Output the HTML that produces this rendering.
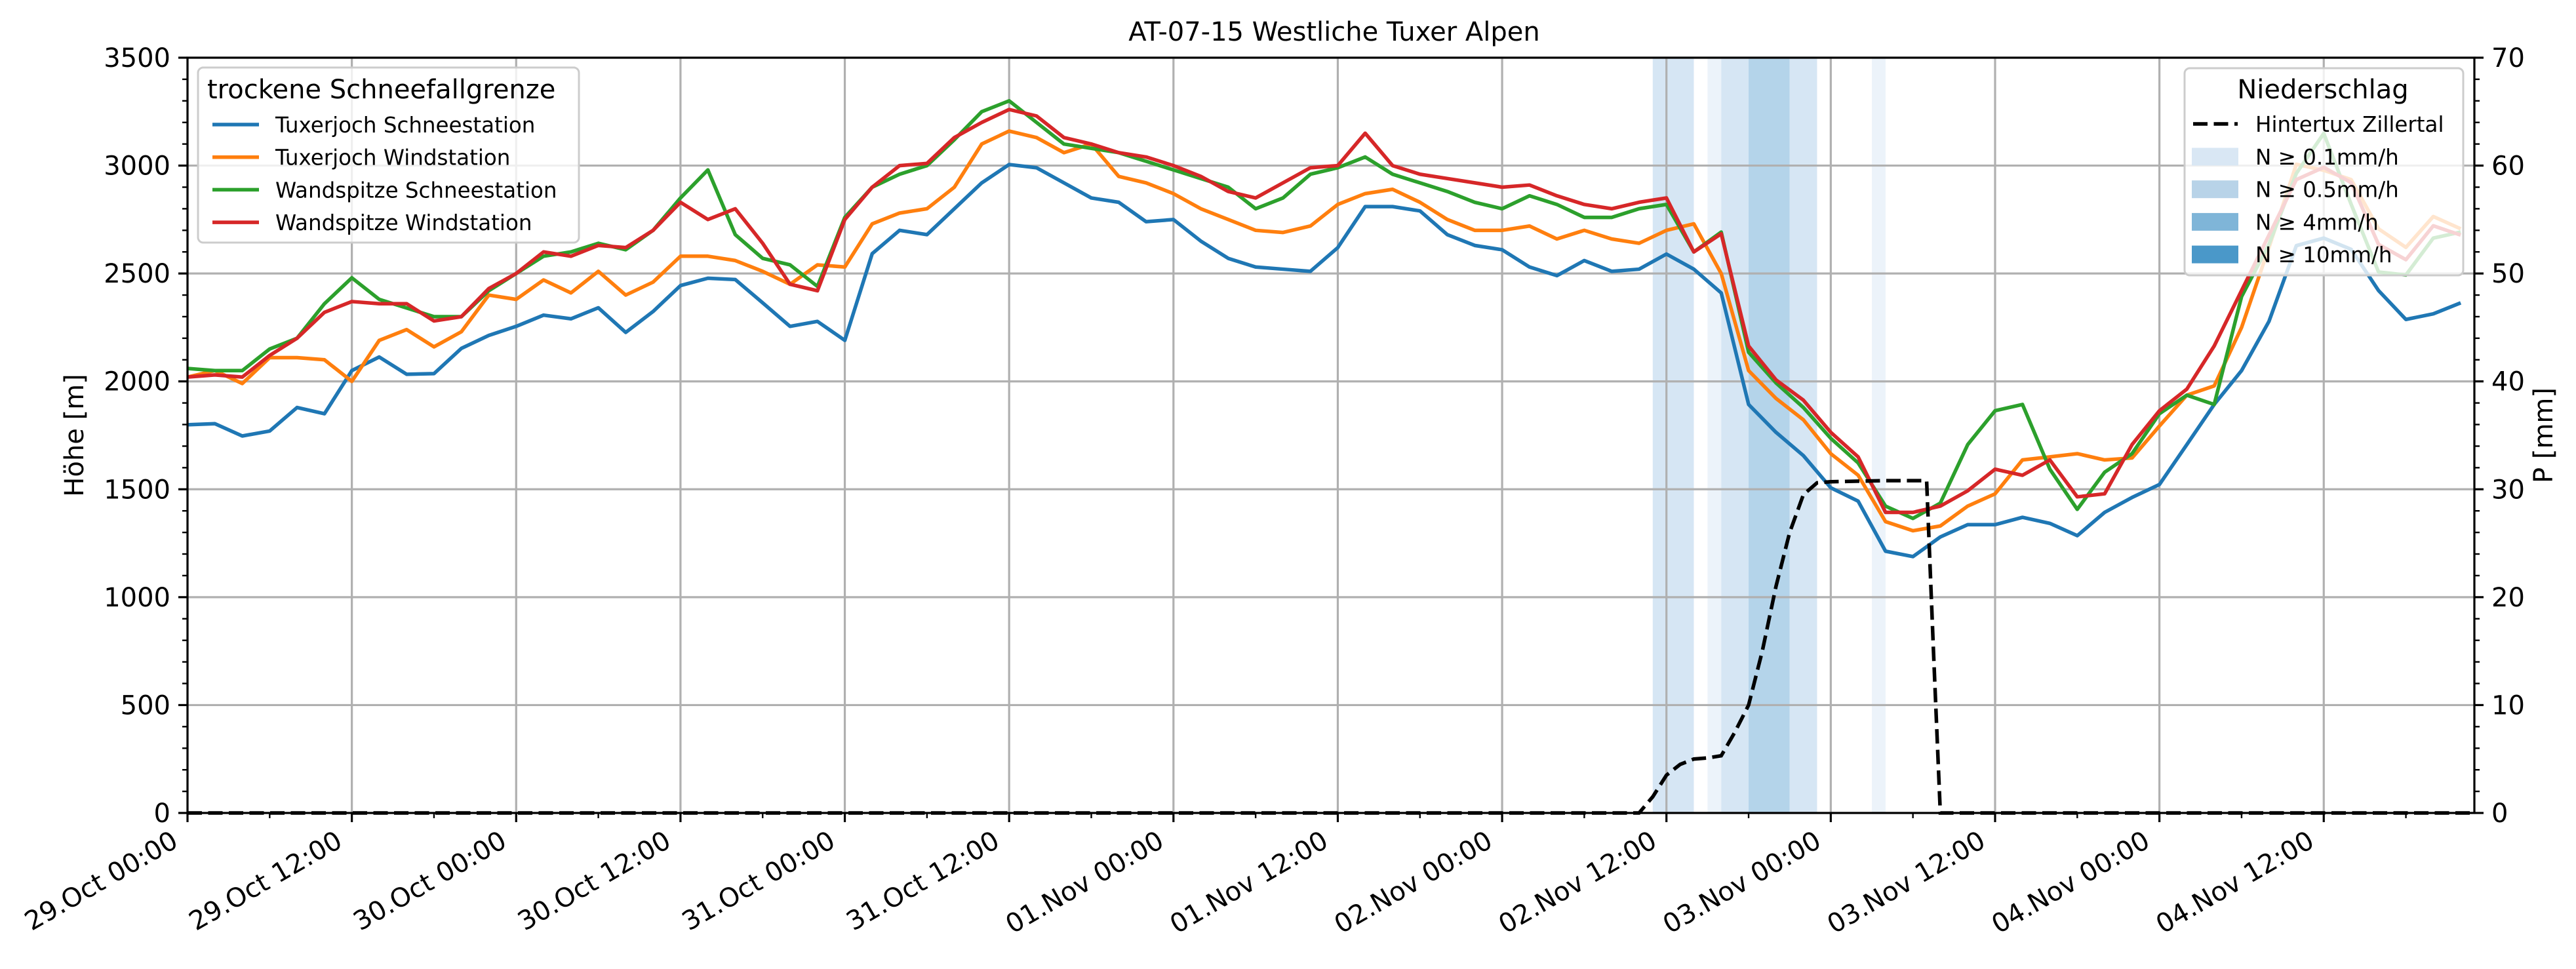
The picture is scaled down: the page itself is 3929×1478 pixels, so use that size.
<!DOCTYPE html>
<html><head><meta charset="utf-8"><style>
html,body{margin:0;padding:0;background:#fff;}
svg{display:block;font-family:"DejaVu Sans","Liberation Sans",sans-serif;}
</style></head><body>
<svg id="chart" width="3929" height="1478" viewBox="0 0 3929 1478" xmlns="http://www.w3.org/2000/svg">
<g id="bands"></g>
<g id="grid"></g>
<g id="series"></g>
<g id="axes"></g>
<g id="legends"></g>
</svg>
<script>
// ---- data (2-hourly, hour 0 = 29.Oct 00:00) ----
const hours2 = [0,2,4,6,8,10,12,14,16,18,20,22,24,26,28,30,32,34,36,38,40,42,44,46,48,50,52,54,56,58,60,62,64,66,68,70,72,74,76,78,80,82,84,86,88,90,92,94,96,98,100,102,104,106,108,110,112,114,116,118,120,122,124,126,128,130,132,134,136,138,140,142,144,146,148,150,152,154,156,158,160,162,164,166];
const tuxSchnee = [1799,1804,1747,1770,1879,1850,2050,2113,2033,2036,2153,2213,2255,2307,2290,2341,2227,2324,2444,2478,2472,2364,2255,2278,2190,2592,
 2700,2680,2800,2920,3005,2990,2920,2850,2830,2740,2750,2650,2570,2530,2520,2510,2620,2810,2810,2790,2680,2630,2610,2530,2490,2560,2510,2520,2590,2520,
 2410,1893,1764,1656,1507,1445,1213,1188,1279,1336,1336,1370,1342,1285,1393,1462,1522,1707,1893,2050,2278,2629,2664,2612,2421,2287,2313,2364];
const tuxWind = [2020,2050,1990,2110,2110,2100,2000,2190,2240,2160,2230,2400,2380,2470,2410,2510,2400,2460,2580,2580,2560,2510,2450,2540,2530,2730,2780,2800,2900,3100,3160,3130,3060,3100,2950,2920,2870,2800,2750,2700,2690,2720,2820,2870,2890,2830,2750,2700,2700,2720,2660,2700,2660,2640,2700,2730,
 2500,2050,1921,1822,1665,1565,1350,1308,1330,1422,1479,1636,1650,1665,1636,1645,1793,1936,1979,2250,2621,3006,2978,2935,2707,2621,2764,2707];
const wandSchnee = [2060,2050,2050,2150,2200,2360,2480,2380,2340,2300,2300,2420,2500,2580,2600,2640,2610,2700,2850,2980,2680,2570,2540,2440,2760,2900,2960,3000,3120,3250,3300,3200,3100,3080,3060,3020,2980,2940,2900,2800,2850,2960,2990,3040,2960,2920,2880,2830,2800,2860,2820,2760,2760,2800,2820,2600,
 2692,2135,1993,1879,1736,1622,1422,1365,1436,1707,1864,1893,1593,1407,1579,1665,1850,1936,1893,2393,2635,2964,3149,2821,2507,2493,2664,2692];
const wandWind = [2020,2030,2020,2120,2200,2320,2370,2360,2360,2280,2300,2430,2500,2600,2580,2630,2620,2700,2830,2750,2800,2640,2450,2420,2750,2900,3000,3010,3130,3200,3260,3230,3130,3100,3060,3040,3000,2950,2880,2850,2920,2990,3000,3150,3000,2960,2940,2920,2900,2910,2860,2820,2800,2830,2850,2600,
 2684,2164,2007,1913,1764,1650,1393,1393,1422,1493,1593,1565,1636,1465,1479,1707,1864,1964,2164,2421,2678,2935,2992,2921,2635,2564,2721,2678];
const precipHours = [0,106,107,108,109,110,111,112,113,114,115,116,117,118,119,120,124,127,127.5,128,167];
const precipValues = [0,0,1.5,3.5,4.5,5,5.1,5.3,7.5,10,15,21,26,29.5,30.6,30.7,30.8,30.8,15,0,0];
const bandStart = [107,111,112,114,117,123];
const bandEnd = [110,112,114,117,119,124];
const bandLevel = [1,0,1,2,1,0];
const xTickLabels = ["29.Oct 00:00","29.Oct 12:00","30.Oct 00:00","30.Oct 12:00","31.Oct 00:00","31.Oct 12:00","01.Nov 00:00","01.Nov 12:00","02.Nov 00:00","02.Nov 12:00","03.Nov 00:00","03.Nov 12:00","04.Nov 00:00","04.Nov 12:00"];
const yTicks = [0,500,1000,1500,2000,2500,3000,3500];
const y2Ticks = [0,10,20,30,40,50,60,70];

// ---- geometry ----
const L=286,R=3774,T=88,B=1240,HMAX=167;
const xS=h=>L+(h/HMAX)*(R-L);
const yS=v=>B-(v/3500)*(B-T);
const y2S=v=>B-(v/70)*(B-T);
const NS="http://www.w3.org/2000/svg";
const FS=40, LFS=32.5;
function mk(tag,attrs,parent){const e=document.createElementNS(NS,tag);for(const k in attrs)e.setAttribute(k,attrs[k]);parent.appendChild(e);return e;}
const gB=document.getElementById('bands'),gG=document.getElementById('grid'),gS=document.getElementById('series'),gA=document.getElementById('axes'),gL=document.getElementById('legends');
const bandColors=["#ecf3fa","#d6e6f4","#b4d4ea"];

bandStart.forEach((s,i)=>{
 const r=mk('rect',{x:xS(s),y:T,width:xS(bandEnd[i])-xS(s),height:B-T,fill:bandColors[bandLevel[i]]},gB);
 
 
});
// grid
yTicks.forEach(v=>{const l=mk('line',{x1:L,x2:R,y1:yS(v),y2:yS(v),stroke:'#b0b0b0','stroke-width':3.2},gG);
 
 });
xTickLabels.forEach((t,i)=>{const l=mk('line',{x1:xS(i*12),x2:xS(i*12),y1:T,y2:B,stroke:'#b0b0b0','stroke-width':3.2},gG);
 
 });
// series
function poly(vals,color,name){
 const p=mk('polyline',{points:vals.map((v,i)=>xS(hours2[i])+','+yS(v)).join(' '),fill:'none',stroke:color,'stroke-width':5.5,'stroke-linejoin':'round'},gS);
 
 
}
poly(tuxSchnee,'#1f77b4','tuxerjoch-schneestation-line');
poly(tuxWind,'#ff7f0e','tuxerjoch-windstation-line');
poly(wandSchnee,'#2ca02c','wandspitze-schneestation-line');
poly(wandWind,'#d62728','wandspitze-windstation-line');
const pl=mk('polyline',{points:precipHours.map((h,i)=>xS(h)+','+y2S(precipValues[i])).join(' '),fill:'none',stroke:'#000','stroke-width':5.5,'stroke-dasharray':'22,9.5'},gS);


// axes frame
const fr=mk('rect',{x:L,y:T,width:R-L,height:B-T,fill:'none',stroke:'#000','stroke-width':3.2},gA);


// y ticks
for(let v=0;v<=3500;v+=100){const major=v%500===0;mk('line',{x1:L,x2:L-(major?14:8),y1:yS(v),y2:yS(v),stroke:'#000','stroke-width':major?3.2:2.4},gA);}
yTicks.forEach(v=>{const t=mk('text',{x:L-26,y:yS(v)+14,'text-anchor':'end','font-size':FS},gA);t.textContent=v;
 
 });
for(let v=0;v<=70;v+=2){const major=v%10===0;mk('line',{x1:R,x2:R+(major?14:8),y1:y2S(v),y2:y2S(v),stroke:'#000','stroke-width':major?3.2:2.4},gA);}
y2Ticks.forEach(v=>{const t=mk('text',{x:R+26,y:y2S(v)+14,'text-anchor':'start','font-size':FS},gA);t.textContent=v;
 
 });
for(let h=0;h<=HMAX;h+=6){const major=h%12===0;mk('line',{x1:xS(h),x2:xS(h),y1:B,y2:B+(major?14:8),stroke:'#000','stroke-width':major?3.2:2.4},gA);}
xTickLabels.forEach((s,i)=>{const x=xS(i*12)-12,y=B+50;
 const t=mk('text',{x:x,y:y,'text-anchor':'end','font-size':FS,transform:`rotate(-30 ${x} ${y})`},gA);t.textContent=s;
 
 });
// labels
let t=mk('text',{x:2035,y:62,'text-anchor':'middle','font-size':FS},gA);t.textContent='AT-07-15 Westliche Tuxer Alpen';


t=mk('text',{x:127,y:664,'text-anchor':'middle','font-size':FS,transform:'rotate(-90 127 664)'},gA);t.textContent='Höhe [m]';


t=mk('text',{x:3893,y:664,'text-anchor':'middle','font-size':FS,transform:'rotate(-90 3893 664)'},gA);t.textContent='P [mm]';


// left legend
let lg=mk('g',{},gL);
mk('rect',{x:302,y:103,width:581,height:267,rx:8,fill:'#fff','fill-opacity':0.8,stroke:'#cccccc','stroke-width':3},lg);
t=mk('text',{x:316,y:150,'font-size':FS},lg);t.textContent='trockene Schneefallgrenze';

const lnames=['Tuxerjoch Schneestation','Tuxerjoch Windstation','Wandspitze Schneestation','Wandspitze Windstation'];
const lcols=['#1f77b4','#ff7f0e','#2ca02c','#d62728'];
lnames.forEach((n,i)=>{const y=190+i*49.7;
 mk('line',{x1:324,x2:395,y1:y,y2:y,stroke:lcols[i],'stroke-width':5.5},lg);
 const tt=mk('text',{x:420,y:y+12,'font-size':LFS},lg);tt.textContent=n;
 
 });
// right legend
lg=mk('g',{},gL);
mk('rect',{x:3332,y:104,width:425,height:316,rx:8,fill:'#fff','fill-opacity':0.8,stroke:'#cccccc','stroke-width':3},lg);
t=mk('text',{x:3543,y:150,'text-anchor':'middle','font-size':FS},lg);t.textContent='Niederschlag';

mk('line',{x1:3345,x2:3413,y1:189,y2:189,stroke:'#000','stroke-width':5.5,'stroke-dasharray':'22,9.5'},lg);
t=mk('text',{x:3440,y:201,'font-size':LFS},lg);t.textContent='Hintertux Zillertal';

const pn=['N ≥ 0.1mm/h','N ≥ 0.5mm/h','N ≥ 4mm/h','N ≥ 10mm/h'];
const pc=['#d9e7f4','#b8d3e8','#7fb5d8','#4a98c9'];
pn.forEach((n,i)=>{const y=239+i*49.7;
 mk('rect',{x:3343,y:y-13.5,width:71,height:27,fill:pc[i]},lg);
 const tt=mk('text',{x:3440,y:y+12,'font-size':LFS},lg);tt.textContent=n;
 
 });
</script>
</body></html>
